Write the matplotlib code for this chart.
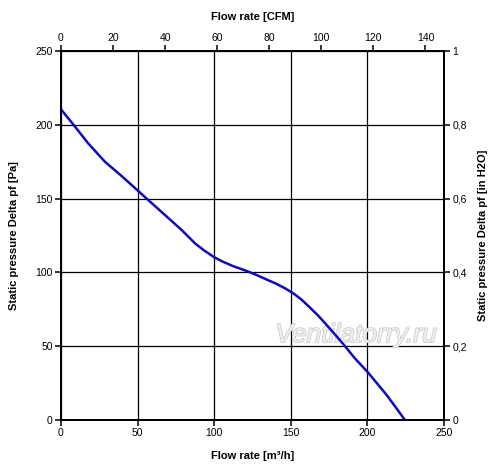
import numpy as np
import matplotlib.pyplot as plt
import matplotlib.patheffects as pe
from matplotlib.ticker import FuncFormatter

plt.rcParams['font.family'] = ['Liberation Sans', 'DejaVu Sans']

# flow rate [m3/h] and static pressure [Pa]
flow = [0, 8, 17.8, 28.7, 39.6, 50, 55.3, 67.9, 78.8, 87.5, 93, 99.9,
        105, 112.5, 118, 123.4, 128, 134.2, 140, 146, 152, 157, 162.5, 168,
        173.4, 179, 185.4, 192, 200, 206, 212.6, 218.5, 224.5]
pressure = [210.5, 200.3, 187.4, 175, 165.3, 155.6, 150.6, 138.9, 128.7, 119.7,
            115.2, 110.4, 107.6, 104.2, 102.2, 100.1, 98.1, 95.2, 92.6, 89.4,
            85.6, 81.6, 76.2, 70.6, 64.4, 57.8, 50, 41.6, 32.7, 25.2, 16.9, 8.6, 0]

x_ticks = [0, 50, 100, 150, 200, 250]
y_ticks = [0, 50, 100, 150, 200, 250]
cfm_ticks = [0, 20, 40, 60, 80, 100, 120, 140]
inh2o_ticks = [0, 0.2, 0.4, 0.6, 0.8, 1]

M3H_PER_CFM = 1.699
PA_PER_INH2O = 250.0

fig = plt.figure(figsize=(5, 4.73), dpi=100)
ax = fig.add_axes([0.122, 0.112, 0.766, 0.780])

ax.plot(flow, pressure, color='#0a0ac8', lw=1.8, zorder=5,
        solid_joinstyle='round')
ax.set_xlim(0, 250)
ax.set_ylim(0, 250)
ax.set_xticks(x_ticks)
ax.set_yticks(y_ticks)
ax.grid(True, color='black', lw=0.9)
ax.tick_params(labelsize=7.5, length=4, width=1.1, direction='out', pad=2)
ax.set_xlabel('Flow rate [m³/h]', fontsize=8, fontweight='bold', labelpad=9)
ax.set_ylabel('Static pressure Delta pf [Pa]', fontsize=8, fontweight='bold', labelpad=12)

# top axis in CFM
top = ax.twiny()
top.set_xlim(0, 250 / M3H_PER_CFM)
top.set_xticks(cfm_ticks)
top.tick_params(labelsize=7.5, length=4, width=1.1, direction='out', pad=2)
top.set_xlabel('Flow rate [CFM]', fontsize=8, fontweight='bold', labelpad=9)

# right axis in inches of water
right = ax.twinx()
right.set_ylim(0, 250 / PA_PER_INH2O)
right.set_yticks(inh2o_ticks)
right.yaxis.set_major_formatter(FuncFormatter(lambda v, p: f'{v:g}'.replace('.', ',')))
right.tick_params(labelsize=7.5, length=4, width=1.1, direction='out', pad=2)
right.set_ylabel('Static pressure Delta pf [in H2O]', fontsize=8, fontweight='bold', labelpad=8)
for a in (ax, top, right):
    for s in a.spines.values():
        s.set_linewidth(1.2)

# watermark
ax.text(0.77, 0.23, 'Ventilatorry.ru', transform=ax.transAxes, fontsize=19,
        style='italic', color='#f0f0f0', ha='center', va='center', zorder=3,
        path_effects=[pe.withStroke(linewidth=1, foreground='#c4c4c4')])

fig.savefig('out.png', dpi=100)
